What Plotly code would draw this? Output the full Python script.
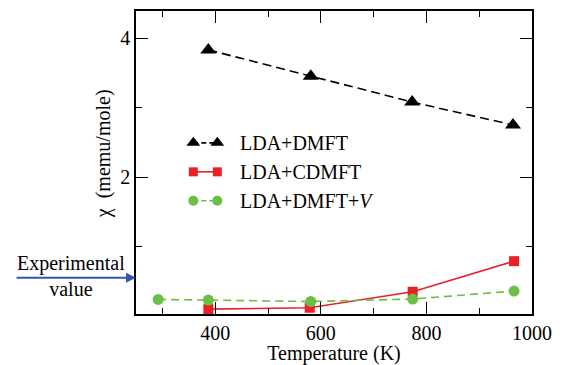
import plotly.graph_objects as go

# Data
T_dmft = [387, 581, 773, 964]
chi_dmft = [3.83, 3.45, 3.08, 2.75]

T_cdmft = [387, 579, 774, 966]
chi_cdmft = [0.10, 0.12, 0.35, 0.79]

T_dmftv = [292, 387, 581, 774, 966]
chi_dmftv = [0.24, 0.23, 0.21, 0.245, 0.36]

chi_exp = 0.55

x_ticks = [400, 600, 800, 1000]
y_ticks = [2, 4]

BLACK = "#000000"
RED = "#e8202a"
GREEN = "#6cbf45"
BLUE = "#3656a8"
FONT = "Liberation Serif"
FS = 20

fig = go.Figure()

fig.add_trace(go.Scatter(x=T_dmft, y=chi_dmft, mode="lines+markers",
                         line=dict(color=BLACK, width=1.6, dash="9px,5px"),
                         marker=dict(symbol="triangle-up", size=14, color=BLACK),
                         showlegend=False))
fig.add_trace(go.Scatter(x=T_cdmft, y=chi_cdmft, mode="lines+markers",
                         line=dict(color=RED, width=1.6),
                         marker=dict(symbol="square", size=10, color=RED),
                         showlegend=False))
fig.add_trace(go.Scatter(x=T_dmftv, y=chi_dmftv, mode="lines+markers",
                         line=dict(color=GREEN, width=1.6, dash="8px,5px"),
                         marker=dict(symbol="circle", size=11, color=GREEN),
                         showlegend=False))

# Legend samples on an overlay axis in paper-like units
legend_rows = [
    ("LDA+DMFT", BLACK, "triangle-up", 12, "5px,3px", 0.5648),
    ("LDA+CDMFT", RED, "square", 9, "solid", 0.4692),
    ("LDA+DMFT+<i>V</i>", GREEN, "circle", 10, "5px,3px", 0.3736),
]
for name, col, sym, sz, dash, yy in legend_rows:
    fig.add_trace(go.Scatter(x=[0.1447, 0.2053], y=[yy, yy], mode="lines+markers",
                             xaxis="x2", yaxis="y2",
                             line=dict(color=col, width=1.6, dash=dash),
                             marker=dict(symbol=sym, size=sz, color=col),
                             showlegend=False, hoverinfo="skip"))
    fig.add_annotation(x=0.2583, y=yy, xref="paper", yref="paper", text=name,
                       showarrow=False, xanchor="left", yanchor="middle",
                       font=dict(family=FONT, size=FS, color=BLACK))

# Experimental arrow
fig.add_annotation(x=0, y=chi_exp, xref="paper", yref="y", ax=-121, ay=0,
                   axref="pixel", ayref="pixel", text="", showarrow=True,
                   arrowhead=2, arrowsize=1, arrowwidth=2, arrowcolor=BLUE,
                   standoff=0)
fig.add_annotation(x=-0.164, y=0.124, xref="paper", yref="paper",
                   text="Experimental<br>value",
                   showarrow=False, xanchor="center", yanchor="middle", align="center",
                   font=dict(family=FONT, size=FS, color=BLACK))

# Y title
fig.add_annotation(x=-0.080, y=0.5285, xref="paper", yref="paper",
                   text="χ  (memu/mole)", textangle=-90, showarrow=False,
                   xanchor="center", yanchor="middle",
                   font=dict(family=FONT, size=FS, color=BLACK))

axis_common = dict(showline=True, linecolor=BLACK, linewidth=1.6, mirror="ticks",
                   ticks="inside", ticklen=12, tickwidth=1.2, tickcolor=BLACK,
                   showgrid=False, zeroline=False, automargin=False,
                   tickfont=dict(family=FONT, size=FS, color=BLACK))

fig.update_layout(
    width=565, height=365,
    font=dict(family=FONT, size=FS, color=BLACK),
    margin=dict(l=135.7, r=33.3, t=11, b=50.7),
    paper_bgcolor="white", plot_bgcolor="white",
    xaxis=dict(range=[250, 1000], tickvals=x_ticks, ticktext=[str(v) for v in x_ticks],
               minor=dict(tickvals=[300, 500, 700, 900], ticks="inside", ticklen=6,
                          tickwidth=1.2, tickcolor=BLACK, showgrid=False),
               title=dict(text="Temperature (K)", standoff=2,
                          font=dict(family=FONT, size=FS, color=BLACK)),
               **axis_common),
    yaxis=dict(range=[0.03, 4.39], tickvals=y_ticks, ticktext=[str(v) for v in y_ticks],
               minor=dict(tickvals=[1, 3], ticks="inside", ticklen=6,
                          tickwidth=1.2, tickcolor=BLACK, showgrid=False),
               **axis_common),
    xaxis2=dict(range=[0, 1], overlaying="x", visible=False, fixedrange=True),
    yaxis2=dict(range=[0, 1], overlaying="y", visible=False, fixedrange=True),
)

fig.write_html("out.html")
